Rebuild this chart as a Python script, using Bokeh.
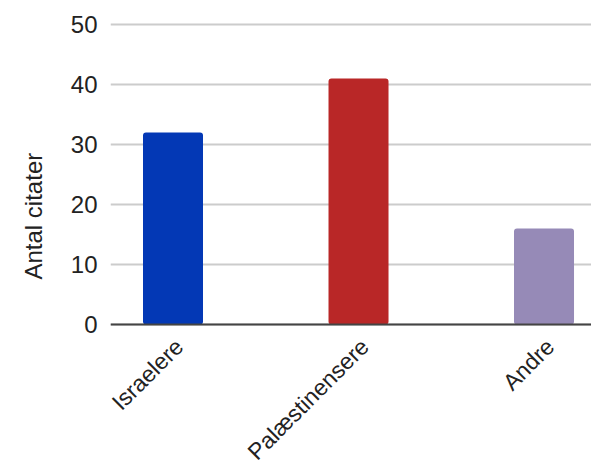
import math
from bokeh.plotting import figure
from bokeh.models import Range1d, FixedTicker, ColumnDataSource, Span, Title
from bokeh.core.properties import value
from bokeh.embed import file_html
from bokeh.resources import INLINE

categories = ["Israelere", "Palæstinensere", "Andre"]
values = [32, 41, 16]
colors = ["#0338b5", "#b92727", "#968ab7"]
y_ticks = [0, 10, 20, 30, 40, 50]
y_title = "Antal citater"

FONT = "Liberation Sans"
FS = "24px"
FS_CAT = "23px"
TXT = "#222222"

xs = list(range(len(categories)))
src = ColumnDataSource(dict(x=xs, y=[0] * len(xs), top=values, color=colors,
                            name=categories))

# frame spans down to the canvas bottom so the rotated category labels fit
p = figure(width=591, height=468, output_backend="svg", toolbar_location=None,
           x_range=Range1d(-0.337, 2.256), y_range=Range1d(-24, 50.667),
           min_border_left=110, min_border_right=0, min_border_top=20,
           min_border_bottom=0)
p.outline_line_color = None
p.background_fill_color = "white"
p.border_fill_color = "white"

p.xgrid.grid_line_color = None
p.ygrid.ticker = FixedTicker(ticks=y_ticks)
p.ygrid.grid_line_color = "#cccccc"
p.ygrid.grid_line_width = 2

p.vbar(x="x", top="top", bottom=0, width=0.3235, fill_color="color",
       line_color=None, source=src, border_radius=3)

# baseline (x axis line at 0)
p.xaxis.visible = False
p.add_layout(Span(location=0, dimension="width", line_color="#444444",
                  line_width=2))

# rotated category labels
p.text(x="x", y="y", text="name", source=src, angle=math.pi / 4,
       text_align="right", text_baseline="top", x_offset=-3, y_offset=9,
       text_font=value(FONT), text_font_size=value(FS_CAT), text_color=TXT)

# y axis
p.yaxis.ticker = FixedTicker(ticks=y_ticks)
p.yaxis.axis_line_color = None
p.yaxis.major_tick_line_color = None
p.yaxis.minor_tick_line_color = None
p.yaxis.major_tick_out = 0
p.yaxis.major_label_standoff = 13
p.yaxis.major_label_text_font = FONT
p.yaxis.major_label_text_font_size = FS
p.yaxis.major_label_text_color = TXT

t = Title(text=y_title, align="left", offset=189, vertical_align="top",
          standoff=37, text_font=FONT, text_font_size=FS,
          text_font_style="normal", text_color=TXT)
p.add_layout(t, "left")

open("out.html", "w").write(file_html(p, INLINE))
